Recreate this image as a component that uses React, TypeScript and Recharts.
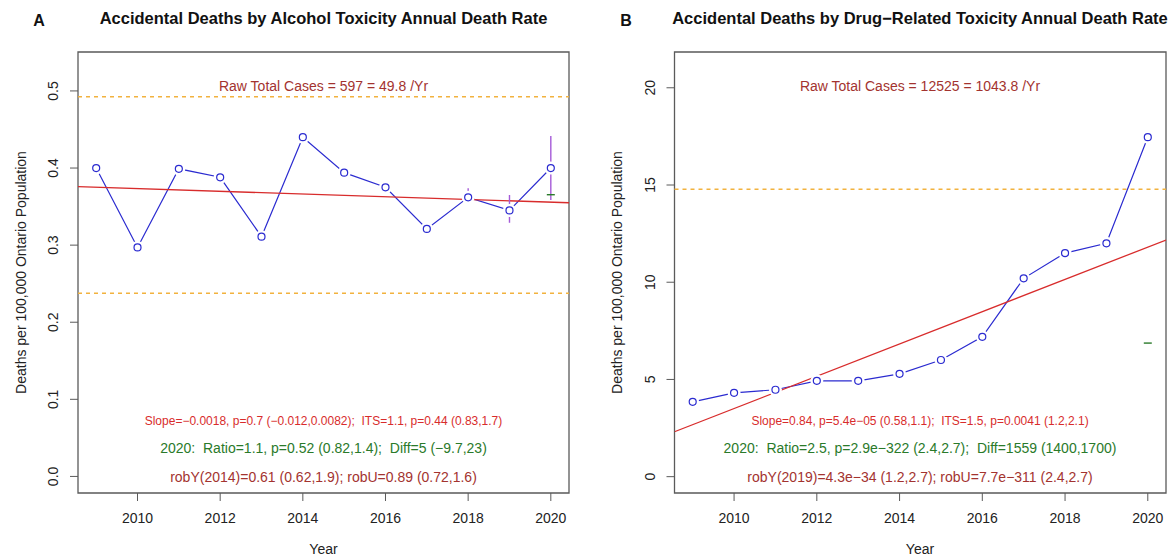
import React from 'react';
import { ComposedChart, Line, XAxis, YAxis, ReferenceLine, ReferenceArea, Scatter } from 'recharts';

// ---------- data ----------
const years = [2009, 2010, 2011, 2012, 2013, 2014, 2015, 2016, 2017, 2018, 2019, 2020];
const alcoholRate = [0.4, 0.297, 0.399, 0.388, 0.311, 0.44, 0.394, 0.375, 0.321, 0.362, 0.345, 0.4];
const drugRate = [3.85, 4.31, 4.47, 4.93, 4.93, 5.29, 6.0, 7.19, 10.2, 11.5, 12.0, 17.46];

const trendYears = [2008.56, 2020.44];
const alcoholTrend = [0.3758, 0.355];
const drugTrend = [2.31, 12.17];

const alcoholLimits = [0.4925, 0.2375];
const drugLimits = [14.78];

const ciYears = [2018, 2019, 2020];
const alcoholCiLow = [0.3563, 0.329, 0.3586];
const alcoholCiHigh = [0.3737, 0.365, 0.4416];
const drugCiLow = [11.3, 11.8, 17.2];
const drugCiHigh = [11.7, 12.2, 17.7];

const expectedYear = [2020];
const alcoholExpected = [0.3654];
const drugExpected = [6.87];

const xTicks = [2010, 2012, 2014, 2016, 2018, 2020];
const alcoholYTicks = [0, 0.1, 0.2, 0.3, 0.4, 0.5];
const drugYTicks = [0, 5, 10, 15, 20];

const xDomain = [2008.56, 2020.44];
const alcoholYDomain = [-0.0215, 0.5505];
const drugYDomain = [-0.84, 21.84];

const titles = [
  'Accidental Deaths by Alcohol Toxicity Annual Death Rate',
  'Accidental Deaths by Drug\u2212Related Toxicity Annual Death Rate',
];
const panelLetters = ['A', 'B'];
const rawText = ['Raw Total Cases = 597 = 49.8 /Yr', 'Raw Total Cases = 12525 = 1043.8 /Yr'];
const slopeText = [
  'Slope=\u22120.0018, p=0.7 (\u22120.012,0.0082);  ITS=1.1, p=0.44 (0.83,1.7)',
  'Slope=0.84, p=5.4e\u221205 (0.58,1.1);  ITS=1.5, p=0.0041 (1.2,2.1)',
];
const ratioText = [
  '2020:  Ratio=1.1, p=0.52 (0.82,1.4);  Diff=5 (\u22129.7,23)',
  '2020:  Ratio=2.5, p=2.9e\u2212322 (2.4,2.7);  Diff=1559 (1400,1700)',
];
const robText = [
  'robY(2014)=0.61 (0.62,1.9); robU=0.89 (0.72,1.6)',
  'robY(2019)=4.3e\u221234 (1.2,2.7); robU=7.7e\u2212311 (2.4,2.7)',
];
const yLabel = 'Deaths per 100,000 Ontario Population';
const xLabel = 'Year';

// ---------- style ----------
const FONT = '"Liberation Sans", Arial, Helvetica, sans-serif';
const BLUE = '#2b2bd0';
const RED = '#d82c2c';
const ORANGE = '#f2b23e';
const PURPLE = '#a55ad8';
const GREEN = '#2a7a2a';
const BROWN = '#a3332f';
const FRAME = '#5a5a5a';

type PanelProps = {
  rates: number[];
  trend: number[];
  limits: number[];
  ciLow: number[];
  ciHigh: number[];
  expected: number[];
  yTicks: number[];
  yDomain: number[];
  yAxisWidth: number;
  rightMargin: number;
  fmt: (v: number) => string;
};

const RotTick = (fmt: (v: number) => string) => (props: any) => {
  const { x, y, payload } = props;
  return (
    <text
      transform={`translate(${x},${y}) rotate(-90)`}
      textAnchor="middle"
      fontSize={14}
      fontFamily={FONT}
      fill="#222"
    >
      {fmt(payload.value)}
    </text>
  );
};

const Panel = (p: PanelProps) => {
  const data = years.map((y, i) => ({ year: y, v: p.rates[i] }));
  const trendData = trendYears.map((y, i) => ({ year: y, t: p.trend[i] }));
  const expData = expectedYear.map((y, i) => ({ year: y, e: p.expected[i] }));
  return (
    <ComposedChart
      width={586}
      height={559}
      margin={{ top: 52, right: p.rightMargin, bottom: 0, left: 0 }}
    >
      <XAxis
        dataKey="year"
        type="number"
        domain={xDomain}
        ticks={xTicks}
        allowDataOverflow
        axisLine={false}
        tickLine={{ stroke: FRAME }}
        tickSize={8}
        tickMargin={12}
        height={66}
        tick={{ fontSize: 14, fill: '#222', fontFamily: FONT }}
      />
      <YAxis
        type="number"
        domain={p.yDomain}
        ticks={p.yTicks}
        allowDataOverflow
        axisLine={false}
        tickLine={{ stroke: FRAME }}
        tickSize={8}
        tickMargin={12}
        width={p.yAxisWidth}
        tick={RotTick(p.fmt)}
      />
      <ReferenceArea
        x1={xDomain[0]}
        x2={xDomain[1]}
        y1={p.yDomain[0]}
        y2={p.yDomain[1]}
        fill="none"
        stroke={FRAME}
        strokeWidth={1.3}
        ifOverflow="visible"
      />
      {p.limits.map((l, i) => (
        <ReferenceLine key={'lim' + i} y={l} stroke={ORANGE} strokeWidth={1.5} strokeDasharray="4 4" />
      ))}
      <Line
        data={data}
        dataKey="v"
        stroke={BLUE}
        strokeWidth={1.2}
        isAnimationActive={false}
        dot={(d: any) => (
          <g key={'d' + d.index}>
            <circle cx={d.cx} cy={d.cy} r={6.5} fill="#fff" />
            <circle cx={d.cx} cy={d.cy} r={3.5} fill="none" stroke={BLUE} strokeWidth={1.2} />
          </g>
        )}
        activeDot={false}
      />
      <Line
        data={trendData}
        dataKey="t"
        stroke={RED}
        strokeWidth={1.3}
        dot={false}
        activeDot={false}
        isAnimationActive={false}
      />
      {ciYears.map((y, i) => (
        <ReferenceLine
          key={'ci' + i}
          segment={[
            { x: y, y: p.ciLow[i] },
            { x: y, y: p.ciHigh[i] },
          ]}
          stroke={PURPLE}
          strokeWidth={1.4}
          ifOverflow="visible"
        />
      ))}
      <Scatter
        data={expData}
        dataKey="e"
        isAnimationActive={false}
        shape={(s: any) => (
          <line x1={s.cx - 4} x2={s.cx + 4} y1={s.cy} y2={s.cy} stroke={GREEN} strokeWidth={1.4} />
        )}
      />
    </ComposedChart>
  );
};

const panelCenters = [323.5, 920];
const letterX = [39, 626];
const yLabelX = [26, 622];

export default function App() {
  const pre = { whiteSpace: 'pre' as const };
  return (
    <div style={{ position: 'absolute', left: 0, top: 0, width: 1172, height: 559, background: '#fff' }}>
      <div style={{ position: 'absolute', left: 0, top: 0 }}>
        <Panel
          rates={alcoholRate}
          trend={alcoholTrend}
          limits={alcoholLimits}
          ciLow={alcoholCiLow}
          ciHigh={alcoholCiHigh}
          expected={alcoholExpected}
          yTicks={alcoholYTicks}
          yDomain={alcoholYDomain}
          yAxisWidth={78}
          rightMargin={17}
          fmt={(v) => v.toFixed(1)}
        />
      </div>
      <div style={{ position: 'absolute', left: 586, top: 0 }}>
        <Panel
          rates={drugRate}
          trend={drugTrend}
          limits={drugLimits}
          ciLow={drugCiLow}
          ciHigh={drugCiHigh}
          expected={drugExpected}
          yTicks={drugYTicks}
          yDomain={drugYDomain}
          yAxisWidth={88.5}
          rightMargin={6}
          fmt={(v) => String(v)}
        />
      </div>
      <svg
        width={1172}
        height={559}
        style={{ position: 'absolute', left: 0, top: 0, pointerEvents: 'none' }}
        fontFamily={FONT}
      >
        {panelCenters.map((cx, i) => (
          <g key={'t' + i}>
            <text x={letterX[i]} y={26} fontSize={16} fontWeight="bold" textAnchor="middle" fill="#111">
              {panelLetters[i]}
            </text>
            <text x={cx} y={24} fontSize={16.5} fontWeight="bold" textAnchor="middle" fill="#111">
              {titles[i]}
            </text>
            <text x={cx} y={91} fontSize={14} textAnchor="middle" fill={BROWN} style={pre}>
              {rawText[i]}
            </text>
            <text x={cx} y={424.5} fontSize={12} textAnchor="middle" fill={RED} style={pre}>
              {slopeText[i]}
            </text>
            <text x={cx} y={452.5} fontSize={14} textAnchor="middle" fill={GREEN} style={pre}>
              {ratioText[i]}
            </text>
            <text x={cx} y={481.5} fontSize={14} textAnchor="middle" fill={BROWN} style={pre}>
              {robText[i]}
            </text>
            <text x={cx} y={554} fontSize={14} textAnchor="middle" fill="#222">
              {xLabel}
            </text>
            <text
              transform={`translate(${yLabelX[i]},272.5) rotate(-90)`}
              fontSize={14}
              textAnchor="middle"
              fill="#222"
            >
              {yLabel}
            </text>
          </g>
        ))}
      </svg>
    </div>
  );
}
